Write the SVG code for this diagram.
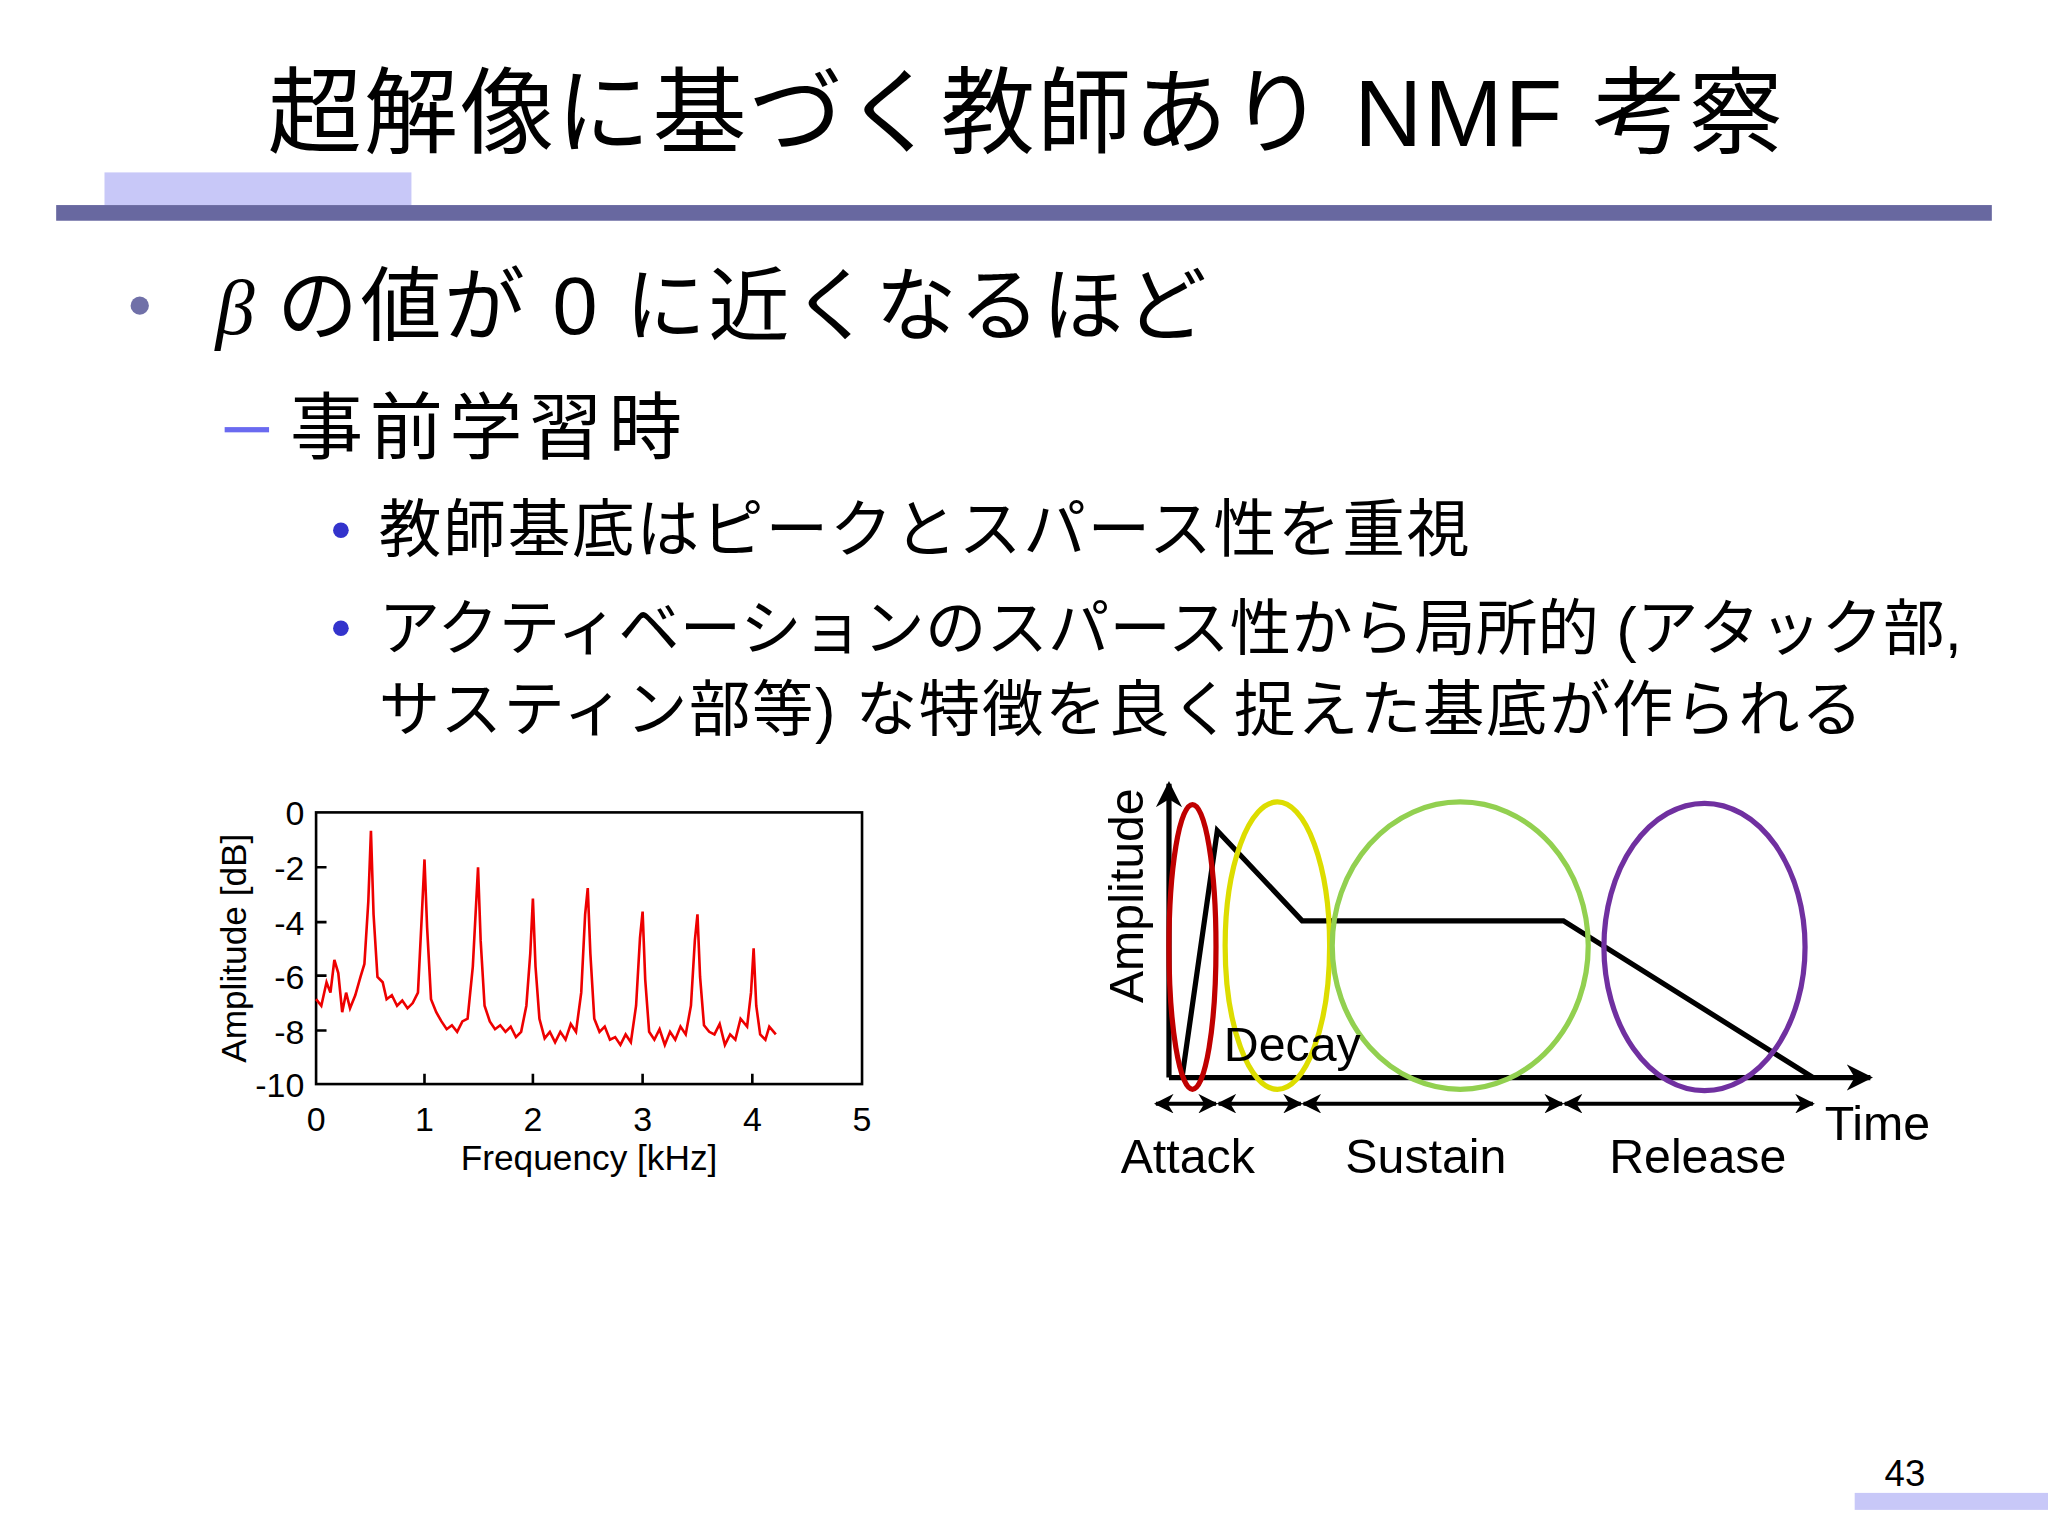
<svg xmlns="http://www.w3.org/2000/svg" width="2048" height="1536" viewBox="0 0 2048 1536">
<style>
.t{font-family:"Liberation Sans","Noto Sans CJK JP",sans-serif;fill:#000}
.ax{fill:none;stroke:#000;stroke-width:2}
.ar{fill:none;stroke:#000;stroke-width:4}
</style>
<defs>
<marker id="ah" viewBox="0 0 10 10" refX="9" refY="5" markerWidth="5" markerHeight="5" orient="auto-start-reverse"><path d="M0,0 L10,5 L0,10 L3,5z" fill="#000"/></marker>
</defs>
<rect width="2048" height="1536" fill="#fff"/>
<g transform="scale(1.30612)">
<g id="header">
<rect x="80" y="132" width="235" height="25" fill="#c8c8f8"/>
<rect x="43" y="157" width="1482" height="12" fill="#6868a0"/>
<text class="t" x="205" y="112" font-size="72" textLength="1160">超解像に基づく教師あり NMF 考察</text>
</g>
<g id="bullets">
<circle cx="107" cy="234" r="7" fill="#7070a8"/>
<text x="165" y="256" font-size="60" font-style="italic" font-family="Liberation Serif,serif">β</text>
<text class="t" x="212" y="256" font-size="62" textLength="712">の値が 0 に近くなるほど</text>
<rect x="172" y="327" width="34" height="4" fill="#6a6af0"/>
<text class="t" x="222" y="347" font-size="56" textLength="300">事前学習時</text>
<circle cx="261" cy="406" r="6" fill="#3333cc"/>
<text class="t" x="290" y="422" font-size="48" textLength="835">教師基底はピークとスパース性を重視</text>
<circle cx="261" cy="481" r="6" fill="#3333cc"/>
<text class="t" x="290" y="498" font-size="47" textLength="1212">アクティベーションのスパース性から局所的 (アタック部,</text>
<text class="t" x="290" y="560" font-size="47" textLength="1136">サスティン部等) な特徴を良く捉えた基底が作られる</text>
</g>
<g id="spectrum">
<rect x="242" y="622" width="418" height="208" class="ax"/>
<g stroke="#000" stroke-width="2">
<path d="M242,664h8M242,706h8M242,747h8M242,789h8M325,830v-8M408,830v-8M492,830v-8M576,830v-8"/>
</g>
<g class="t" font-size="26" text-anchor="end">
<text x="233" y="632">0</text><text x="233" y="674">-2</text><text x="233" y="716">-4</text><text x="233" y="757">-6</text><text x="233" y="799">-8</text><text x="233" y="840">-10</text>
</g>
<g class="t" font-size="26" text-anchor="middle">
<text x="242" y="866">0</text><text x="325" y="866">1</text><text x="408" y="866">2</text><text x="492" y="866">3</text><text x="576" y="866">4</text><text x="660" y="866">5</text>
<text x="451" y="896" font-size="27">Frequency [kHz]</text>
<text transform="translate(188,726) rotate(-90)" font-size="27">Amplitude [dB]</text>
</g>
<path fill="none" stroke="#e00" stroke-width="2" d="M242,765 L246,770 250,752 253,760 256,735 259,745 262,775 265,760 268,772 272,762 276,748 279,738 282,690 284,636 286,700 289,748 293,752 296,765 300,762 304,770 308,766 312,772 316,768 320,760 323,700 325,658 327,710 330,765 334,775 338,782 342,788 346,785 350,790 354,782 358,780 362,740 366,664 368,720 371,770 375,782 379,788 383,785 387,790 391,786 395,794 399,790 403,770 406,730 408,688 410,740 413,780 417,795 421,790 425,798 429,790 433,796 437,784 441,790 445,760 448,700 450,680 452,730 455,780 459,790 463,786 467,796 471,794 475,800 479,792 483,798 487,770 490,718 492,698 494,750 497,790 501,796 505,788 509,800 513,790 517,796 521,786 525,792 529,770 532,720 534,700 536,748 539,785 543,790 547,792 551,784 555,800 559,792 563,796 567,780 572,786 575,760 577,726 579,770 582,792 586,796 589,786 594,792"/>
</g>
<g id="envelope">
<line x1="895" y1="825" x2="895" y2="600" class="ar" marker-end="url(#ah)"/>
<line x1="895" y1="825" x2="1432" y2="825" class="ar" marker-end="url(#ah)"/>
<polyline points="905,825 932,636 997,705 1197,705 1388,825" fill="none" stroke="#000" stroke-width="4"/>
<ellipse cx="913" cy="725" rx="18" ry="109" fill="none" stroke="#c00000" stroke-width="4"/>
<ellipse cx="978" cy="724" rx="40" ry="110" fill="none" stroke="#dddd00" stroke-width="4"/>
<ellipse cx="1118" cy="724" rx="98" ry="110" fill="none" stroke="#92d050" stroke-width="4"/>
<ellipse cx="1305" cy="725" rx="77" ry="110" fill="none" stroke="#7030a0" stroke-width="4"/>
<g stroke="#000" stroke-width="3" marker-start="url(#ah)" marker-end="url(#ah)">
<line x1="885" y1="845" x2="931" y2="845"/>
<line x1="933" y1="845" x2="996" y2="845"/>
<line x1="998" y1="845" x2="1196" y2="845"/>
<line x1="1198" y1="845" x2="1388" y2="845"/>
</g>
<g class="t" font-size="37">
<text x="937" y="812">Decay</text>
<text x="858" y="898">Attack</text>
<text x="1030" y="898">Sustain</text>
<text x="1232" y="898">Release</text>
<text x="1397" y="873">Time</text>
<text transform="translate(875,768) rotate(-90)">Amplitude</text>
</g>
</g>
<g id="footer">
<rect x="1420" y="1143" width="148" height="13" fill="#c8c8f8"/>
<text class="t" x="1474" y="1138" font-size="28" text-anchor="end">43</text>
</g>
</g>
</svg>
